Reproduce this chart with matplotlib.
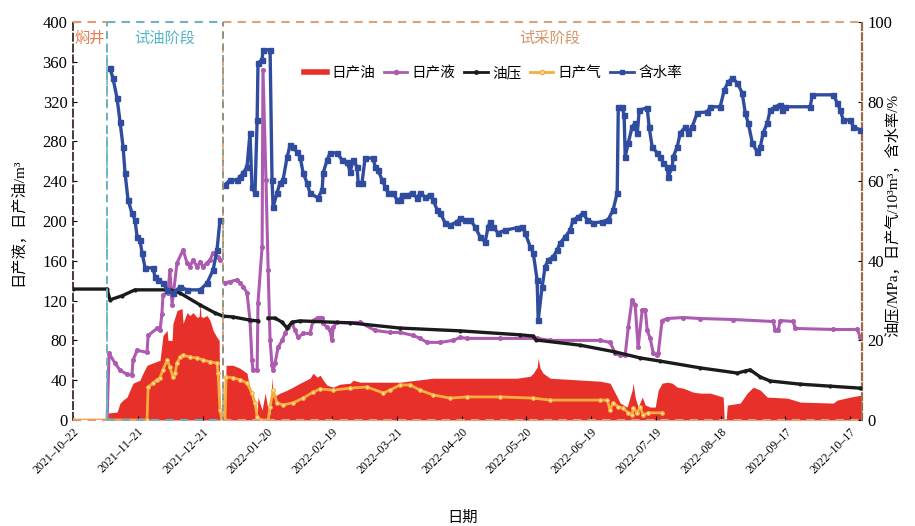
import numpy as np
import matplotlib
matplotlib.use("Agg")
import matplotlib.pyplot as plt
import matplotlib.dates as mdates
from matplotlib.lines import Line2D
from datetime import datetime, timedelta

plt.rcParams["font.family"] = ["Liberation Serif", "Noto Sans CJK SC", "DejaVu Sans"]
plt.rcParams["axes.unicode_minus"] = False
CJK = ["Noto Sans CJK SC", "DejaVu Sans"]

# ---- data: (days since 2021-10-22, value) ----
START = datetime(2021, 10, 22)

# daily oil, m3 (left axis)
oil_pts = [(15.8, 0), (16.2, 7), (20.4, 8), (21.8, 17), (23.2, 20), (25.0, 23), (26.4, 30), (27.8, 37),
           (31.0, 40), (32.4, 47), (34.3, 55), (36.6, 57), (40.3, 60), (41.7, 85), (43.6, 90), (44.0, 80),
           (45.9, 80), (46.3, 97), (48.2, 110), (50.5, 112), (51.0, 97), (52.8, 108), (54.2, 105),
           (55.6, 108), (57.5, 103), (58.4, 104), (58.9, 117), (59.3, 104), (60.2, 103), (62.1, 105),
           (63.5, 100), (64.9, 90), (66.7, 83), (67.7, 80), (68.1, 0), (70.4, 0), (70.9, 55), (74.1, 55),
           (77.4, 52), (80.6, 47), (82.0, 30), (83.4, 17), (85.3, 7), (85.7, 23), (87.6, 10), (89.0, 27),
           (90.4, 10), (91.3, 5), (92.2, 43), (92.7, 23), (95.9, 27), (99.2, 30), (101.9, 33), (105.2, 37),
           (109.8, 42), (111.2, 47), (113.1, 43), (114.5, 45), (115.9, 40), (117.7, 35), (120.5, 33),
           (123.7, 36), (128.4, 37), (129.8, 40), (133.0, 38), (142.3, 38), (151.5, 38), (166.8, 42),
           (179.3, 42), (205.7, 42), (211.8, 44), (213.2, 47), (215.0, 53), (215.5, 62), (216.4, 52),
           (217.8, 47), (221.0, 42), (236.3, 40), (244.2, 39), (248.8, 37), (251.2, 27), (253.5, 17),
           (256.7, 13), (259.0, 30), (259.5, 37), (260.4, 23), (261.8, 13), (263.7, 23), (265.1, 15),
           (267.4, 13), (269.7, 13), (271.1, 30), (272.9, 37), (275.3, 38), (277.6, 37), (279.9, 33),
           (282.7, 32), (287.3, 28), (290.5, 27), (295.2, 27), (301.2, 23), (301.7, 0), (302.6, 0),
           (303.1, 15), (309.1, 17), (312.3, 27), (315.1, 33), (318.4, 30), (321.6, 23), (330.9, 22),
           (336.9, 18), (352.2, 17), (354.0, 20), (360.1, 23), (365.2, 25)]

# daily liquid, m3 (left axis); NaN marks missing records
liquid_pts = [(15.8, 0), (16.7, 67), (19.5, 57), (21.8, 50), (25.0, 46), (27.3, 45), (27.8, 60), (29.7, 70),
              (34.3, 68), (34.8, 85), (38.9, 92), (40.3, 90), (41.2, 107), (41.7, 126), (44.0, 128),
              (44.9, 151), (45.9, 116), (48.2, 158), (51.0, 171), (52.8, 158), (54.2, 154), (55.6, 161),
              (57.5, 154), (58.9, 159), (60.2, 154), (62.1, 158), (63.5, 161), (64.9, 168), (67.2, 164),
              (68.1, 161), (69.3, np.nan), (70.4, 138), (72.8, 139), (76.0, 141), (77.4, 138), (78.8, 134),
              (80.6, 128), (82.0, 100), (82.9, 60), (83.4, 50), (85.3, 50), (85.7, 118), (87.6, 174),
              (88.0, 352), (89.4, 241), (90.4, 151), (91.3, 80), (92.2, 55), (92.7, 50), (93.6, 57),
              (95.0, 73), (96.9, 80), (98.2, 87), (99.6, 93), (101.5, 97), (102.9, 90), (104.3, 83),
              (106.6, 87), (109.8, 87), (111.2, 100), (113.5, 103), (115.4, 103), (115.9, 97), (117.7, 93),
              (119.1, 90), (120.0, 80), (120.5, 93), (122.3, 98), (133.0, 98), (140.0, 90), (146.9, 88),
              (151.5, 88), (157.6, 85), (160.8, 82), (164.0, 78), (170.1, 78), (176.1, 80), (179.3, 83),
              (182.6, 82), (197.9, 82), (215.0, 82), (221.0, 80), (244.2, 80), (248.8, 78), (251.2, 67),
              (253.5, 65), (255.8, 65), (257.2, 93), (259.0, 121), (260.4, 116), (261.8, 73), (263.7, 111),
              (265.1, 111), (266.0, 90), (267.4, 82), (268.8, 67), (270.6, 65), (271.1, 67), (272.9, 100),
              (275.3, 102), (282.7, 103), (290.5, 102), (305.8, 101), (324.4, 99), (325.3, 90), (326.7, 90),
              (327.6, 100), (333.6, 99), (334.6, 92), (352.2, 91), (363.3, 91), (364.7, 83)]

# tubing pressure, MPa (right axis)
pressure_pts = [(0, 32.9), (15.8, 32.9), (17.1, 30.2), (22.7, 31.2), (28.7, 32.7), (45.0, 32.7), (49.6, 31.9),
                (58.9, 28.9), (65.8, 26.9), (69.5, 26.1), (74.1, 25.9), (82.0, 25.1), (85.7, 24.9),
                (88.0, np.nan), (90.4, 25.6), (93.6, 25.6), (96.8, 24.6), (99.2, 23.1), (101.5, 24.6),
                (105.2, 24.9), (128.4, 24.4), (151.5, 23.1), (179.3, 22.4), (207.1, 21.4), (213.2, 21.1),
                (214.5, 20.1), (234.9, 18.8), (251.2, 17.1), (262.7, 15.6), (272.0, 14.8), (290.5, 13.1),
                (307.7, 11.8), (311.4, 12.3), (313.7, 12.6), (318.4, 10.8), (323.0, 9.8), (336.9, 9.0),
                (350.8, 8.5), (364.7, 8.0)]

# daily gas, 10^3 m3 (right axis)
gas_pts = [(0, 0), (34.3, 0), (34.8, 8.3), (37.1, 9.3), (38.9, 10.1), (40.3, 10.6), (41.7, 12.6), (43.6, 15.1),
           (44.9, 13.3), (46.3, 10.8), (47.3, 11.8), (48.2, 14.3), (49.6, 15.8), (51.0, 16.3), (54.2, 15.8),
           (57.5, 15.6), (60.2, 15.1), (63.5, 14.6), (66.7, 14.3), (67.2, 11.8), (68.1, 2.5), (69.0, 0),
           (70.4, 0), (70.9, 10.8), (74.1, 10.6), (77.4, 10.1), (80.6, 9.3), (82.9, 6.8), (84.3, 4.3),
           (85.3, 0.8), (86.7, 0), (90.4, 0), (91.3, 3.3), (92.7, 7.5), (94.5, 4.3), (97.3, 3.8),
           (101.9, 4.3), (106.6, 5.5), (111.2, 7.0), (114.5, 7.8), (120.5, 7.5), (128.4, 8.0), (136.2, 8.3),
           (143.7, 6.8), (146.9, 7.5), (151.5, 8.8), (156.2, 8.8), (160.8, 7.5), (166.8, 6.3), (174.7, 5.5),
           (182.6, 5.8), (197.9, 5.8), (213.2, 5.5), (221.0, 5.0), (244.2, 5.0), (247.5, 5.0), (248.8, 2.5),
           (250.2, 4.3), (252.6, 3.3), (254.9, 3.0), (257.2, 1.8), (259.0, 1.3), (259.5, 3.0), (261.4, 1.8),
           (262.7, 3.3), (264.1, 1.3), (266.5, 1.8), (272.9, 1.8)]

# water cut, % (right axis)
watercut_pts = [(17.1, 88.5), (18.5, 85.9), (20.4, 80.9), (21.8, 74.9), (23.2, 68.6), (24.1, 62.1), (25.5, 55.3),
                (27.3, 52.0), (28.7, 50.3), (29.7, 46.0), (31.0, 45.2), (32.0, 42.0), (33.4, 38.2), (37.1, 38.2),
                (38.0, 35.9), (39.4, 35.2), (41.7, 34.4), (43.6, 32.7), (46.3, 31.9), (49.6, 33.4), (52.8, 32.7),
                (58.9, 32.7), (62.1, 34.4), (64.9, 37.7), (66.7, 42.7), (68.1, 50.3), (69.3, np.nan),
                (70.4, 59.1), (72.8, 60.3), (76.0, 60.3), (77.4, 61.1), (78.8, 62.1), (80.6, 63.6), (82.0, 72.1),
                (82.9, 58.6), (84.3, 57.0), (85.3, 75.4), (85.7, 89.7), (87.6, 90.5), (88.0, 93.0), (91.3, 93.0),
                (92.2, 60.3), (92.7, 53.5), (94.5, 57.0), (95.9, 59.6), (97.3, 60.3), (99.2, 66.1), (100.6, 69.1),
                (101.9, 68.6), (103.8, 67.3), (105.2, 66.1), (106.6, 62.1), (108.4, 59.6), (109.8, 57.0),
                (113.5, 55.8), (115.4, 57.8), (115.9, 62.1), (117.7, 65.3), (119.1, 67.1), (122.3, 67.1),
                (124.7, 65.3), (127.0, 64.8), (128.4, 62.3), (129.8, 65.3), (131.6, 63.6), (132.1, 59.6),
                (133.9, 59.6), (135.3, 65.8), (139.0, 65.8), (140.0, 63.6), (141.3, 62.8), (143.2, 60.3),
                (144.6, 58.6), (146.0, 57.0), (148.3, 57.0), (150.1, 55.3), (151.5, 55.3), (152.5, 56.5),
                (154.8, 56.5), (157.1, 57.0), (159.4, 55.8), (160.8, 57.0), (163.1, 56.0), (165.4, 56.5),
                (166.8, 55.3), (168.7, 52.8), (170.1, 52.0), (172.4, 49.5), (174.7, 49.0), (178.0, 49.8),
                (179.3, 50.8), (181.7, 50.3), (184.0, 50.3), (186.3, 48.5), (188.6, 46.0), (190.9, 44.7),
                (192.3, 48.5), (193.2, 49.8), (194.6, 48.5), (196.9, 47.0), (200.2, 47.7), (205.7, 48.3),
                (208.1, 48.5), (209.5, 47.0), (211.8, 43.5), (213.2, 42.0), (215.0, 35.2), (215.5, 25.1),
                (217.3, 33.4), (218.7, 38.5), (220.1, 40.2), (222.4, 41.0), (224.3, 42.7), (225.7, 44.5),
                (228.0, 46.0), (230.3, 47.7), (231.7, 50.3), (234.0, 51.0), (236.3, 52.0), (238.2, 50.3),
                (241.0, 49.5), (245.1, 49.8), (247.9, 50.3), (250.2, 52.8), (252.1, 57.0), (252.6, 78.7),
                (254.4, 78.7), (255.3, 76.6), (255.8, 66.1), (257.2, 69.6), (259.0, 73.6), (260.4, 74.6),
                (261.4, 72.1), (262.3, 77.9), (266.0, 78.4), (266.9, 73.6), (268.3, 68.6), (270.6, 67.1),
                (272.0, 66.1), (273.4, 64.6), (275.3, 63.6), (275.7, 61.1), (277.6, 63.6), (278.0, 66.1),
                (279.9, 68.6), (281.3, 72.1), (283.6, 73.6), (285.0, 72.1), (286.8, 73.6), (289.2, 77.2),
                (293.8, 77.4), (295.2, 78.7), (299.8, 78.7), (301.7, 82.9), (303.5, 84.9), (305.4, 85.9),
                (307.7, 84.7), (310.0, 82.2), (311.4, 77.2), (312.8, 74.6), (314.7, 69.6), (317.0, 67.3),
                (318.4, 68.6), (319.7, 72.1), (321.6, 74.6), (323.0, 77.9), (325.3, 78.7), (327.6, 79.2),
                (328.5, 77.9), (329.9, 78.7), (341.5, 78.7), (342.5, 81.7), (352.2, 81.7), (354.0, 79.7),
                (355.4, 77.9), (356.8, 75.4), (360.1, 75.4), (361.5, 73.6), (364.7, 72.9)]

# stages: (name, start day, end day, line colour, text colour)
stages = [("焖井", 0.0, 15.8, "#e39a72", "#e8784e"),
          ("试油阶段", 15.8, 69.5, "#6db4c0", "#55b5c6"),
          ("试采阶段", 69.5, 365.5, "#d9a47c", "#d49467")]

tick_days = list(range(0, 361, 30))
legend_labels = ["日产油", "日产液", "油压", "日产气", "含水率"]

# ---- drawing ----
base = mdates.date2num(START)


def split(pts):
    d, v = zip(*pts)
    return base + np.asarray(d, float), np.asarray(v, float)


C_OIL, C_LIQ, C_P, C_GAS, C_WC = "#e8302a", "#ad5bb0", "#1b1b1b", "#f3ae3c", "#2f4c9e"

fig = plt.figure(figsize=(9.15, 5.26), dpi=100)
ax1 = fig.add_axes([73 / 915, 106 / 526, 789 / 915, 398 / 526])
ax2 = ax1.twinx()

x, y = split(oil_pts)
ax1.fill_between(x, 0, y, color=C_OIL, lw=0, zorder=1)
x, y = split(liquid_pts)
ax1.plot(x, y, color=C_LIQ, lw=2.2, marker="o", ms=2.6, zorder=3)

x, y = split(gas_pts)
ax2.plot(x, y, color=C_GAS, lw=2.0, marker="o", ms=2.6, mfc="#fde6a8", mec=C_GAS, mew=0.8, zorder=2)
x, y = split(pressure_pts)
ax2.plot(x, y, color=C_P, lw=2.4, marker="o", ms=2.0, zorder=3)
x, y = split(watercut_pts)
ax2.plot(x, y, color=C_WC, lw=2.4, marker="s", ms=3.6, zorder=4)

ax1.set_xlim(base, base + 365.5)
ax1.set_ylim(0, 400)
ax2.set_ylim(0, 100)
ax1.set_yticks(range(0, 401, 40))
ax2.set_yticks(range(0, 101, 20))
ax1.set_xticks([base + d for d in tick_days])
ax1.set_xticklabels([(START + timedelta(days=d)).strftime("%Y–%m–%d") for d in tick_days],
                    rotation=45, ha="right", rotation_mode="anchor", fontsize=8.5)
ax1.tick_params(axis="y", direction="in", length=3, labelsize=12, pad=4)
ax1.tick_params(axis="x", direction="in", length=3, pad=4)
ax2.tick_params(axis="y", direction="in", length=3, labelsize=12, pad=4)

for s in ("top", "bottom", "right"):
    ax1.spines[s].set_visible(False)
for s in ("top", "bottom", "left"):
    ax2.spines[s].set_visible(False)
ax1.spines["left"].set_color("#3a2c24")
ax1.spines["left"].set_linestyle((0, (4, 2)))
ax1.spines["left"].set_linewidth(1.3)
ax2.spines["right"].set_color("#9c6a46")
ax2.spines["right"].set_linestyle((0, (3, 1.5)))
ax2.spines["right"].set_linewidth(1.6)

# stage boxes
trans = ax2.get_xaxis_transform()
for name, d0, d1, lc, tc in stages:
    for yy in (0.0, 1.0):
        ax2.plot([base + d0, base + d1], [yy, yy], transform=trans, color=lc, lw=1.5,
                 ls=(0, (4, 3)), clip_on=False, zorder=5)
    if d0 > 0:
        ax2.plot([base + d0, base + d0], [0, 1], transform=trans, color=lc, lw=1.4,
                 ls=(0, (4, 3)), clip_on=False, zorder=5)
    ax2.text(base + (d0 + d1) / 2 if d1 < 300 else base + 221, 0.958, name, transform=trans,
             ha="center", va="center", fontsize=11, color=tc, family=CJK, zorder=6)
ax2.plot([base + 15.8] * 2, [0, 1], transform=trans, color="#6db4c0", lw=1.2,
         ls=(2, (4, 3)), clip_on=False, zorder=5)
ax2.plot([base + 69.5] * 2, [0, 1], transform=trans, color="#7f8f80", lw=1.2,
         ls=(2, (4, 3)), clip_on=False, zorder=5)

# legend
handles = [Line2D([], [], color=C_OIL, lw=4),
           Line2D([], [], color=C_LIQ, lw=2, marker="o", ms=3),
           Line2D([], [], color=C_P, lw=2, marker="o", ms=2.5),
           Line2D([], [], color=C_GAS, lw=2, marker="o", ms=3, mfc="#fde6a8"),
           Line2D([], [], color=C_WC, lw=2, marker="s", ms=3.5)]
leg = ax2.legend(handles, legend_labels, loc="center", bbox_to_anchor=(0.532, 0.872), ncol=5,
                 frameon=False, handlelength=1.6, handletextpad=0.3,
                 columnspacing=0.6, prop={"family": CJK, "size": 10.5})
leg.set_zorder(7)

fig.text(18 / 915, 1 - 222 / 526, "日产液，日产油/m³", rotation=90, ha="center", va="center", fontsize=11)
fig.text(893 / 915, 1 - 215 / 526, "油压/MPa，日产气/10³m³，含水率/%", rotation=90,
         ha="center", va="center", fontsize=11)
fig.text(463 / 915, 1 - 517 / 526, "日期", ha="center", va="center", fontsize=11, family=CJK)

fig.savefig("out.png", dpi=100, facecolor="white")
